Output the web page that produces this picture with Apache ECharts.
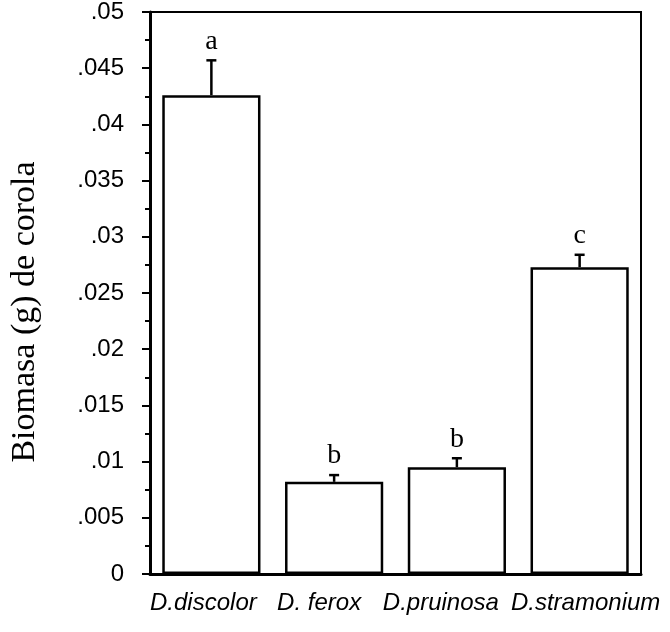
<!DOCTYPE html>
<html>
<head>
<meta charset="utf-8">
<script src="https://cdn.jsdelivr.net/npm/echarts@6/dist/echarts.min.js"></script>
<style>
  html, body { margin: 0; padding: 0; background: #fff; }
  #chart { width: 670px; height: 632px; }
</style>
</head>
<body>
<div id="chart"></div>
<script>
// Corolla biomass per Datura species: mean with upper standard error
const categories = ['D.discolor', 'D. ferox', 'D.pruinosa', 'D.stramonium'];
const means = [0.0426, 0.0082, 0.0095, 0.0273];
const errorTops = [0.0457, 0.0088, 0.0103, 0.0284];
const groupLetters = ['a', 'b', 'b', 'c'];

const chart = echarts.init(document.getElementById('chart'));

function tickText(v) {
  if (v === 0) return '0';
  return v.toFixed(3).replace(/0+$/, '').replace(/^0/, '');
}

// small horizontal nudges for the species names under the ticks
const labelBase = { fontStyle: 'italic', fontFamily: 'Liberation Sans', fontSize: 24, color: '#000' };
const nameRich = {
  n0: Object.assign({ padding: [0, 16, 0, 0] }, labelBase),
  n1: Object.assign({ padding: [0, 30, 0, 0] }, labelBase),
  n2: Object.assign({ padding: [0, 32, 0, 0] }, labelBase),
  n3: Object.assign({ padding: [0, 0, 0, 12] }, labelBase)
};

chart.setOption({
  animation: false,
  backgroundColor: '#fff',
  grid: {
    left: 138, right: 29, top: 9, bottom: 58,
    show: true, borderColor: '#000', borderWidth: 2, backgroundColor: 'transparent'
  },
  xAxis: {
    type: 'category',
    data: categories,
    axisLine: { lineStyle: { color: '#000', width: 3 } },
    axisTick: { alignWithLabel: true, length: 10, lineStyle: { color: '#000', width: 2 } },
    axisLabel: {
      margin: 17, color: '#000', fontStyle: 'italic',
      fontFamily: 'Liberation Sans', fontSize: 24, interval: 0,
      formatter: function (name, idx) { return '{n' + idx + '|' + name + '}'; },
      rich: nameRich
    }
  },
  yAxis: {
    type: 'value',
    min: 0, max: 0.05, interval: 0.005,
    name: 'Biomasa (g) de corola',
    nameLocation: 'middle',
    nameGap: 108,
    nameTextStyle: {
      fontFamily: 'Liberation Serif', fontSize: 34, color: '#000',
      padding: [0, 38, 0, 0]
    },
    axisLine: { show: true, lineStyle: { color: '#000', width: 3 } },
    axisTick: { show: true, length: 8, lineStyle: { color: '#000', width: 2 } },
    minorTick: { show: true, splitNumber: 2, length: 5, lineStyle: { color: '#000', width: 2 } },
    splitLine: { show: false },
    axisLabel: {
      margin: 26, color: '#000', fontFamily: 'Liberation Sans', fontSize: 24,
      formatter: tickText
    }
  },
  series: [
    {
      type: 'bar',
      data: means,
      barWidth: '80%',
      itemStyle: { color: '#fff', borderColor: '#000', borderWidth: 2.5 }
    },
    {
      type: 'custom',
      data: errorTops.map((top, i) => [i, means[i], top]),
      renderItem: function (params, api) {
        const i = api.value(0);
        const base = api.coord([i, api.value(1)]);
        const top = api.coord([i, api.value(2)]);
        const half = 5;
        return {
          type: 'group',
          children: [
            { type: 'line', shape: { x1: base[0], y1: base[1], x2: top[0], y2: top[1] },
              style: { stroke: '#000', lineWidth: 2.5 } },
            { type: 'line', shape: { x1: top[0] - half, y1: top[1], x2: top[0] + half, y2: top[1] },
              style: { stroke: '#000', lineWidth: 2.5 } },
            { type: 'text', x: top[0], y: top[1] - 5,
              style: { text: groupLetters[params.dataIndex], fill: '#000',
                       font: '28px "Liberation Serif"', align: 'center', verticalAlign: 'bottom' } }
          ]
        };
      },
      z: 5
    }
  ]
});
</script>
</body>
</html>
